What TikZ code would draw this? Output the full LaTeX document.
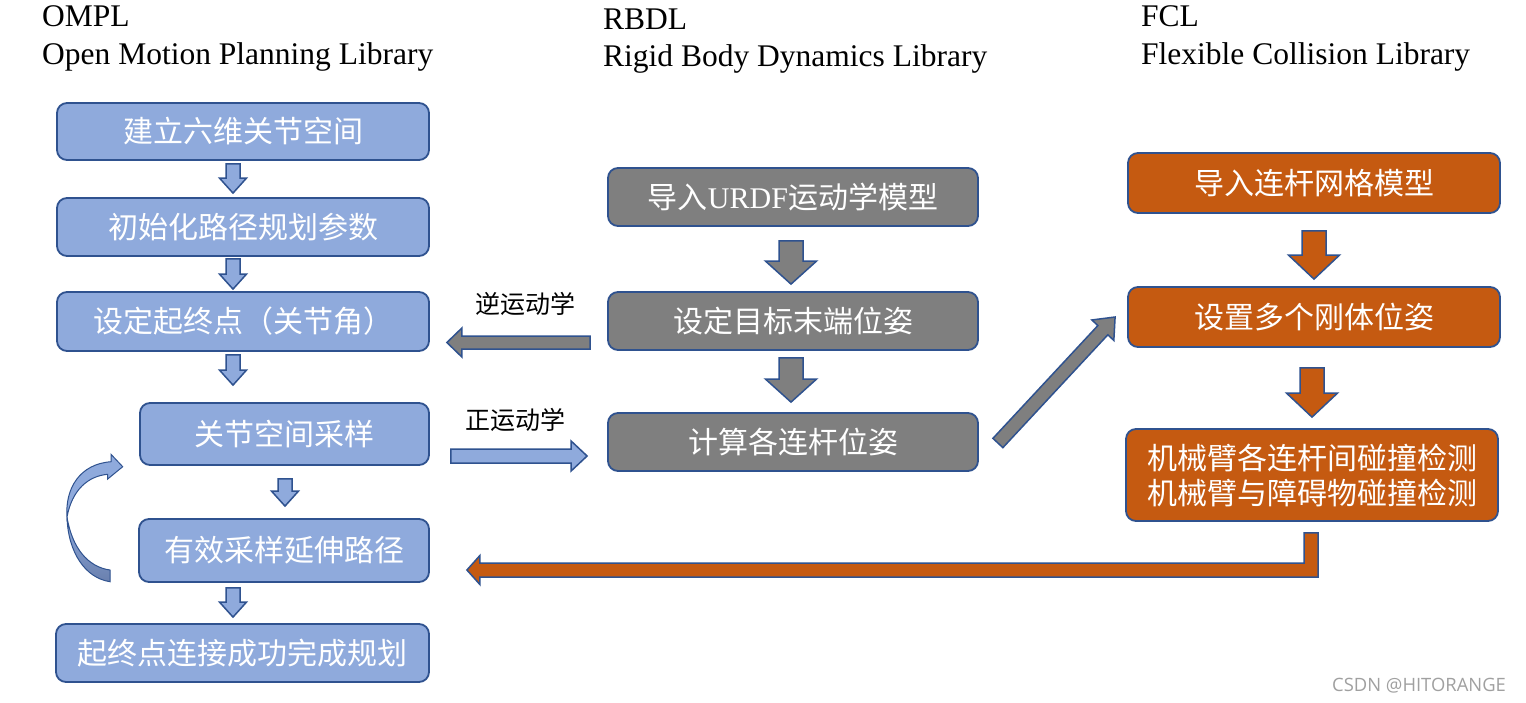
\documentclass[tikz,border=0pt]{standalone}
\usepackage{fontspec}
\setmainfont{Liberation Serif}
\newfontfamily\cjk{Noto Sans CJK SC}
\newfontfamily\wmfont{Open Sans}
\usetikzlibrary{calc}
\definecolor{bfill}{HTML}{8FAADC}
\definecolor{bline}{HTML}{2F528F}
\definecolor{gfill}{HTML}{7F7F7F}
\definecolor{ofill}{HTML}{C55A11}
\definecolor{bdark}{HTML}{6A80AE}
\definecolor{wmgray}{HTML}{A0A0A0}
% #1 style, #2 tail, #3 tip, #4 half shaft, #5 half head, #6 head length
\newcommand{\blockarrow}[6]{%
  \coordinate (baT) at #2;
  \coordinate (baP) at #3;
  \coordinate (baB) at ($(baP)!#6!(baT)$);
  \draw[#1] ($(baT)!#4!90:(baP)$) -- ($(baB)!#4!90:(baP)$) -- ($(baB)!#5!90:(baP)$) -- (baP)
    -- ($(baB)!#5!-90:(baP)$) -- ($(baB)!#4!-90:(baP)$) -- ($(baT)!#4!-90:(baP)$) -- cycle;}
\begin{document}
\begin{tikzpicture}[x=1pt,y=-1pt,
  box/.style={draw=bline, line width=1.8pt, rounded corners=10pt, text=white,
    font=\cjk\fontsize{30}{35}\selectfont, inner sep=0pt, align=center},
  bluebox/.style={box, fill=bfill},
  graybox/.style={box, fill=gfill},
  orangebox/.style={box, fill=ofill},
  barrow/.style={draw=bline, line width=1.5pt, fill=bfill, line join=miter},
  garrow/.style={draw=bline, line width=1.5pt, fill=gfill, line join=miter},
  oarrow/.style={draw=bline, line width=1.5pt, fill=ofill, line join=miter},
  header/.style={anchor=base west, inner sep=0pt, font=\fontsize{31.5}{36}\selectfont},
  kin/.style={inner sep=0pt, font=\cjk\fontsize{25}{30}\selectfont},
]
\fill[white] (0,0) rectangle (1526,702);
\useasboundingbox (0,0) rectangle (1526,702);

% headers
\node[header] (h1a) at (42,26.7) {OMPL};
\node[header] (h1b) at (42,64) {Open Motion Planning Library};
\node[header] (h2a) at (603,29.3) {RBDL};
\node[header] (h2b) at (603,66.7) {Rigid Body Dynamics Library};
\node[header] (h3a) at (1141,26.7) {FCL};
\node[header] (h3b) at (1141,64) {Flexible Collision Library};

% OMPL column
\node[bluebox, minimum width=372, minimum height=57] (b1) at (243,131.5) {建立六维关节空间};
\node[bluebox, minimum width=372, minimum height=58] (b2) at (243,227) {初始化路径规划参数};
\node[bluebox, minimum width=372, minimum height=59] (b3) at (243,321.5) {设定起终点（关节角）};
\node[bluebox, minimum width=289, minimum height=62] (b4) at (284.5,434) {关节空间采样};
\node[bluebox, minimum width=290, minimum height=63] (b5) at (284,550.5) {有效采样延伸路径};
\node[bluebox, minimum width=373, minimum height=58] (b6) at (242.5,653) {起终点连接成功完成规划};

% RBDL column
\node[graybox, minimum width=370, minimum height=58] (g1) at (793,197) {导入{\rmfamily URDF}运动学模型};
\node[graybox, minimum width=370, minimum height=58] (g2) at (793,321) {设定目标末端位姿};
\node[graybox, minimum width=370, minimum height=58] (g3) at (793,442) {计算各连杆位姿};

% FCL column
\node[orangebox, minimum width=372, minimum height=60] (o1) at (1314,183) {导入连杆网格模型};
\node[orangebox, minimum width=372, minimum height=60] (o2) at (1314,317) {设置多个刚体位姿};
\node[orangebox, minimum width=372, minimum height=92] (o3) at (1312,475) {机械臂各连杆间碰撞检测\\机械臂与障碍物碰撞检测};

% labels
\node[kin] (ik) at (525.5,304) {逆运动学};
\node[kin] (fk) at (515.5,420) {正运动学};

% blue down arrows
\blockarrow{barrow}{($(b1.south)+(-10,3)$)}{($(b2.north)+(-10,-4)$)}{7pt}{13.5pt}{15pt}
\blockarrow{barrow}{($(b2.south)+(-10,2)$)}{($(b3.north)+(-10,-2)$)}{7pt}{13.5pt}{15pt}
\blockarrow{barrow}{($(b3.south)+(-10,3)$)}{($(b4.north -| b3.south)+(-10,-17)$)}{7pt}{13.5pt}{15pt}
\blockarrow{barrow}{($(b4.south)+(0.5,13)$)}{($(b5.north)+(1,-12)$)}{7pt}{13.5pt}{15pt}
\blockarrow{barrow}{($(b5.south -| b6.north)+(-9.5,5)$)}{($(b6.north)+(-9.5,-6)$)}{7pt}{13.5pt}{15pt}

% gray down arrows
\blockarrow{garrow}{($(g1.south)+(-2,14)$)}{($(g2.north)+(-2,-7)$)}{12pt}{25.5pt}{23pt}
\blockarrow{garrow}{($(g2.south)+(-2,7)$)}{($(g3.north)+(-2,-10)$)}{12pt}{25.5pt}{23pt}

% orange down arrows
\blockarrow{oarrow}{($(o1.south)+(0,17)$)}{($(o2.north)+(0,-7)$)}{12pt}{25.5pt}{24pt}
\blockarrow{oarrow}{($(o2.south)+(-2,20)$)}{($(o3.north)+(0,-11)$)}{12pt}{25.5pt}{24pt}

% kinematics arrows
\blockarrow{garrow}{($(g2.west)+(-17,21.5)$)}{($(b3.east)+(17,21)$)}{6.5pt}{14.5pt}{15pt}
\blockarrow{barrow}{($(b4.east)+(21,22)$)}{($(g3.west)+(-20,14)$)}{7pt}{15pt}{16pt}
\blockarrow{garrow}{($(g3.east)+(19,1)$)}{($(o2.west)+(-12,0)$)}{6.8pt}{15pt}{18pt}

% L-shaped return arrow
\coordinate (Lt) at ($(o3.south)+(-1,11)$);
\coordinate (Lp) at ($(b5.east)+(37,19.5)$);
\draw[oarrow] ($(Lt)+(-7,0)$) -- ($(Lt)+(7,0)$) -- ($(Lt|-Lp)+(7,7)$) -- ($(Lp)+(13,7)$)
  -- ($(Lp)+(13,14.5)$) -- (Lp) -- ($(Lp)+(13,-14.5)$) -- ($(Lp)+(13,-7)$)
  -- ($(Lt|-Lp)+(-7,-7)$) -- cycle;

% curved loop arrow (b5 -> b4)
\path[draw=bline, line width=1pt, top color=bfill, bottom color=bdark]
  (67,517) .. controls (68,552) and (85,578) .. (110,581.7) -- (110,570)
  .. controls (88,567) and (72,548) .. (67,517) -- cycle;
\path[draw=bline, line width=1pt, fill=bfill, line join=miter]
  (67,517) .. controls (65,488) and (80,464) .. (111,461.7) -- (111,454.3) -- (122.7,466.7)
  -- (107.7,479) -- (107.7,474.3) .. controls (88,476) and (72,490) .. (67,517) -- cycle;

% watermark
\node[anchor=base west, inner sep=0pt, text=wmgray, font=\wmfont\fontsize{18.4}{22}\selectfont] (wm) at (1332,691.7) {CSDN @HITORANGE};
\end{tikzpicture}
\end{document}
